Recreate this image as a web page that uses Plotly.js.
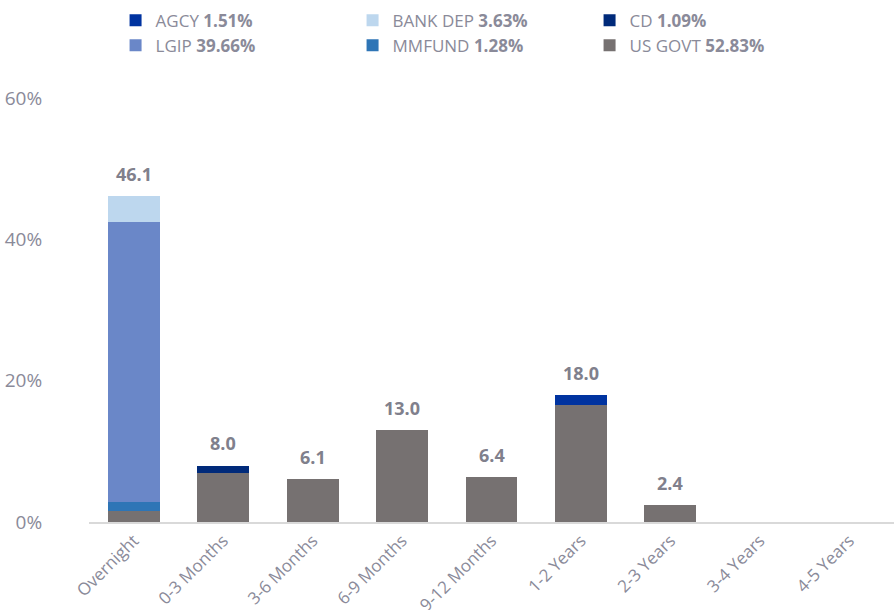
<!DOCTYPE html>
<html>
<head>
<meta charset="utf-8">
<script src="https://cdn.plot.ly/plotly-3.0.1.min.js"></script>
<style>html,body{margin:0;padding:0;background:#fff;}#chart{width:894px;height:610px;}</style>
</head>
<body>
<div id="chart"></div>
<script>
var categories = ["Overnight","0-3 Months","3-6 Months","6-9 Months","9-12 Months","1-2 Years","2-3 Years","3-4 Years","4-5 Years"];
var usGovt   = [1.5, 6.9, 6.1, 13.0, 6.4, 16.5, 2.4, 0, 0];
var mmfund   = [1.28, 0, 0, 0, 0, 0, 0, 0, 0];
var lgip     = [39.66, 0, 0, 0, 0, 0, 0, 0, 0];
var cd       = [0, 1.09, 0, 0, 0, 0, 0, 0, 0];
var bankDep  = [3.63, 0, 0, 0, 0, 0, 0, 0, 0];
var agcy     = [0, 0, 0, 0, 0, 1.51, 0, 0, 0];
var totals      = [46.1, 8.0, 6.1, 13.0, 6.4, 18.0, 2.4, 0, 0];
var totalLabels = ["46.1","8.0","6.1","13.0","6.4","18.0","2.4","",""];
var legendNames = ["US GOVT <b>52.83%</b>","MMFUND <b>1.28%</b>","LGIP <b>39.66%</b>","CD <b>1.09%</b>","BANK DEP <b>3.63%</b>","AGCY <b>1.51%</b>"];
var seriesColors = ["#767171","#2e75b6","#6a87c8","#002a7a","#bdd7ee","#0033a0"];
var seriesValues = [usGovt, mmfund, lgip, cd, bankDep, agcy];

var traces = seriesValues.map(function(v, i){
  return {type:'bar', x:categories, y:v, name:legendNames[i],
    marker:{color:seriesColors[i]}, hoverinfo:'x+y'};
});

var annotations = categories.map(function(c, i){
  return {x:c, y:totals[i], text:totalLabels[i], showarrow:false, yanchor:'bottom', yshift:8,
    font:{family:'Open Sans, sans-serif', size:18, color:'#80808c', weight:700}};
}).filter(function(a){return a.text !== '';});

var layout = {
  width:894, height:610,
  margin:{l:89, r:0, t:98, b:88},
  paper_bgcolor:'#fff', plot_bgcolor:'#fff',
  barmode:'stack', bargap:0.42,
  font:{family:'Open Sans, sans-serif', color:'#8a8a99'},
  xaxis:{type:'category', tickangle:-45, tickfont:{size:17, color:'#8a8a99'},
    showline:true, linecolor:'#d9d9d9', linewidth:2, showgrid:false, ticks:'', fixedrange:true},
  yaxis:{range:[0,60], dtick:20, ticksuffix:'%', showgrid:false, zeroline:false, showline:false,
    ticks:'outside', ticklen:42, tickcolor:'rgba(0,0,0,0)', tickfont:{size:19, color:'#8a8a99'}},
  legend:{orientation:'h', traceorder:'reversed', x:0.033, xanchor:'left', y:1.225, yanchor:'top',
    entrywidth:192, entrywidthmode:'pixels', font:{size:17, color:'#8a8a99'}, tracegroupgap:0},
  showlegend:true,
  annotations:annotations
};

Plotly.newPlot('chart', traces, layout, {displayModeBar:false, staticPlot:true});
</script>
</body>
</html>
